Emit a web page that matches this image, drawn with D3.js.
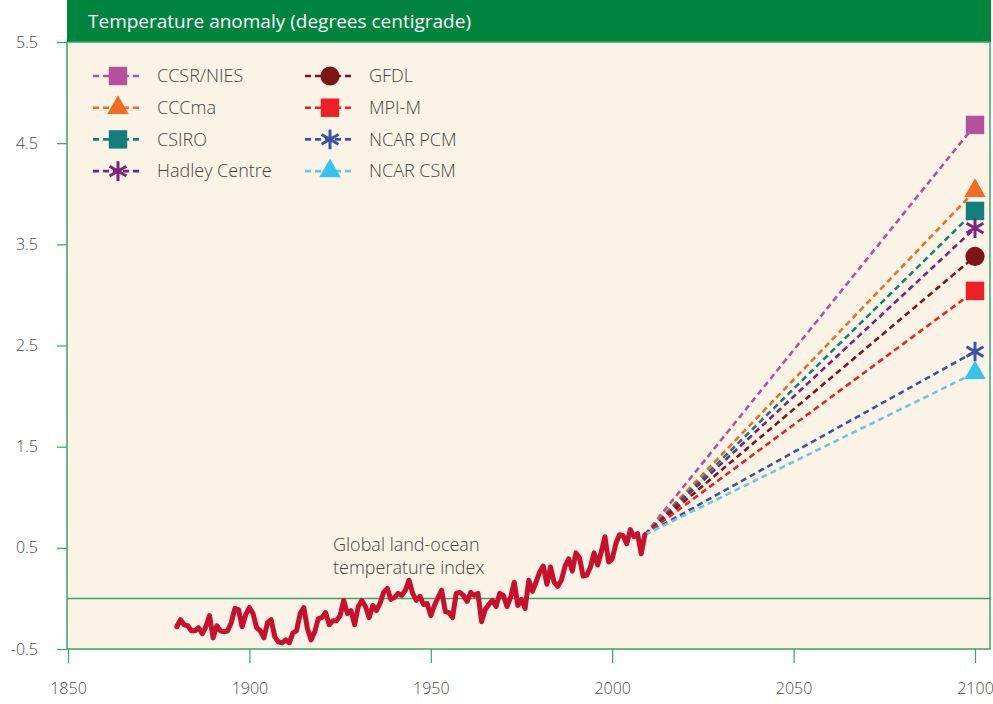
<!DOCTYPE html>
<html>
<head>
<meta charset="utf-8">
<script src="https://cdn.jsdelivr.net/npm/d3@7"></script>
<style>
  body { margin: 0; background: #fff; }
  text { font-family: "Open Sans", "Noto Sans", sans-serif; }
</style>
</head>
<body>
<svg id="chart" width="993" height="704"></svg>
<script>
// observed global land-ocean temperature index, one value per year from 1880
const tempStartYear = 1880
const tempAnomaly = [
  -0.28, -0.21, -0.26, -0.27, -0.32, -0.32, -0.29, -0.35, -0.28, -0.17,
  -0.39, -0.27, -0.32, -0.33, -0.32, -0.24, -0.10, -0.11, -0.28, -0.16,
  -0.09, -0.15, -0.29, -0.32, -0.39, -0.24, -0.21, -0.38, -0.43, -0.44,
  -0.41, -0.44, -0.34, -0.32, -0.15, -0.09, -0.30, -0.41, -0.33, -0.20,
  -0.19, -0.14, -0.26, -0.22, -0.22, -0.17, -0.02, -0.15, -0.12, -0.26,
  -0.08, -0.02, -0.08, -0.19, -0.07, -0.12, -0.05,  0.06,  0.10, -0.01,
   0.01,  0.05,  0.03,  0.08,  0.18,  0.05, -0.02,  0.02, -0.06, -0.05,
  -0.17, -0.07,  0.01,  0.08, -0.13, -0.14, -0.19,  0.05,  0.06,  0.03,
  -0.03,  0.06,  0.03,  0.05, -0.23, -0.11, -0.06, -0.02, -0.08,  0.05,
   0.03, -0.08,  0.01,  0.16, -0.07, -0.01, -0.10,  0.18,  0.07,  0.16,
   0.26,  0.32,  0.14,  0.31,  0.16,  0.12,  0.18,  0.32,  0.39,  0.27,
   0.45,  0.40,  0.22,  0.23,  0.31,  0.45,  0.33,  0.46,  0.61,  0.36,
   0.39,  0.54,  0.63,  0.62,  0.54,  0.68,  0.61,  0.64,  0.44,  0.63
]

// model projections to 2100
const modelNames  = ['CCSR/NIES', 'CCCma', 'CSIRO', 'Hadley Centre', 'GFDL', 'MPI-M', 'NCAR PCM', 'NCAR CSM']
const modelEnd    = [4.68, 4.03, 3.83, 3.66, 3.38, 3.04, 2.44, 2.23]
const modelColors = ['#b5529f', '#f26c21', '#127f7e', '#7a2480', '#7e1416', '#ed2024', '#3a54a4', '#35c4ef']
const lineColors  = ['#b5529f', '#f26c21', '#127f7e', '#7a2480', '#7e1416', '#ed2024', '#3a54a4', '#6cc8de']
const modelShapes = ['square', 'triangle', 'square', 'asterisk', 'circle', 'square', 'asterisk', 'triangle']
const projYear = 2100

const xTicks = [1850, 1900, 1950, 2000, 2050, 2100]
const yTicks = [-0.5, 0.5, 1.5, 2.5, 3.5, 4.5, 5.5]
const title = 'Temperature anomaly (degrees centigrade)'
const note = ['Global land-ocean', 'temperature index']

const svg = d3.select('#chart')

const x = d3.scaleLinear().domain([1850, 2100]).range([68, 975])
const y = d3.scaleLinear().domain([-0.5, 5.5]).range([649, 42])

const plotLeft = 67, plotRight = 990

// header band
svg.append('rect')
    .attr('x', plotLeft).attr('y', 0)
    .attr('width', plotRight - plotLeft + 1).attr('height', 42)
    .style('fill', '#00843e')

svg.append('text')
    .attr('x', 88).attr('y', 28)
    .style('fill', '#fff')
    .style('font-size', '19px')
    .text(title)

// plot background
svg.append('rect')
    .attr('x', plotLeft).attr('y', 42)
    .attr('width', plotRight - plotLeft).attr('height', 649 - 42)
    .style('fill', '#fbf4e6')
    .style('stroke', '#3aa565')
    .style('stroke-width', 1.5)

// zero line
svg.append('line')
    .attr('x1', plotLeft).attr('x2', plotRight)
    .attr('y1', y(0)).attr('y2', y(0))
    .style('stroke', '#3aa565')
    .style('stroke-width', 1.5)

// axes
const yAxis = svg.append('g')
    .attr('transform', `translate(${plotLeft},0)`)
    .call(d3.axisLeft(y).tickValues(yTicks).tickSize(10).tickPadding(19).tickFormat(d => d.toFixed(1)))
const xAxis = svg.append('g')
    .attr('transform', `translate(0,649)`)
    .call(d3.axisBottom(x).tickValues(xTicks).tickSize(14).tickPadding(20).tickFormat(d3.format('d')))

for (const ax of [yAxis, xAxis]) {
    ax.select('.domain').remove()
    ax.selectAll('line').style('stroke', '#3aa565').style('stroke-width', 1.2)
    ax.selectAll('text')
        .style('font-family', '"Open Sans", sans-serif')
        .style('font-size', '16px')
        .style('font-weight', 300)
        .style('fill', '#4a4a4a')
}

// projections
const startYear = tempStartYear + tempAnomaly.length - 1
const startVal = tempAnomaly[tempAnomaly.length - 1]

const symbolFor = s => ({
    square: d3.symbolSquare,
    triangle: d3.symbolTriangle,
    circle: d3.symbolCircle,
    asterisk: d3.symbolAsterisk
})[s]
const sizeFor = s => ({ square: 340, triangle: 200, circle: 290, asterisk: 270 })[s]

const drawMarker = (g, i, cx, cy) => {
    const shape = modelShapes[i]
    const p = g.append('path')
        .attr('transform', `translate(${cx},${cy})`)
        .attr('d', d3.symbol().type(symbolFor(shape)).size(sizeFor(shape))())
    if (shape === 'asterisk') {
        p.style('fill', 'none').style('stroke', modelColors[i]).style('stroke-width', 3)
    } else {
        p.style('fill', modelColors[i])
    }
}

const proj = svg.append('g')
modelNames.forEach((name, i) => {
    proj.append('line')
        .attr('x1', x(startYear)).attr('y1', y(startVal))
        .attr('x2', x(projYear)).attr('y2', y(modelEnd[i]))
        .style('stroke', lineColors[i])
        .style('stroke-width', 2.6)
        .style('stroke-dasharray', '6,4')
})

// observed record
const line = d3.line()
    .x((d, i) => x(tempStartYear + i))
    .y(d => y(d))

svg.append('path')
    .datum(tempAnomaly)
    .attr('d', line)
    .style('fill', 'none')
    .style('stroke', '#c8102e')
    .style('stroke-width', 5)
    .style('stroke-linejoin', 'round')
    .style('stroke-linecap', 'round')

modelNames.forEach((name, i) => drawMarker(proj, i, x(projYear), y(modelEnd[i])))

// annotation
svg.append('g').selectAll('text')
    .data(note)
    .enter().append('text')
    .attr('x', 333)
    .attr('y', (d, i) => 551 + i * 23)
    .style('font-size', '18px')
    .style('font-weight', 300)
    .style('fill', '#444')
    .text(d => d)

// legend
const legend = svg.append('g')
modelNames.forEach((name, i) => {
    const col = Math.floor(i / 4), row = i % 4
    const lx = 93 + col * 212, ly = 76 + row * 31.7
    legend.append('line')
        .attr('x1', lx).attr('x2', lx + 50)
        .attr('y1', ly).attr('y2', ly)
        .style('stroke', lineColors[i])
        .style('stroke-width', 2.6)
        .style('stroke-dasharray', '6,4')
    drawMarker(legend, i, lx + 25, ly)
    legend.append('text')
        .attr('x', lx + 64).attr('y', ly)
        .attr('dy', '0.35em')
        .style('font-size', '18px')
        .style('font-weight', 300)
        .style('fill', '#444')
        .text(name)
})
</script>
</body>
</html>
